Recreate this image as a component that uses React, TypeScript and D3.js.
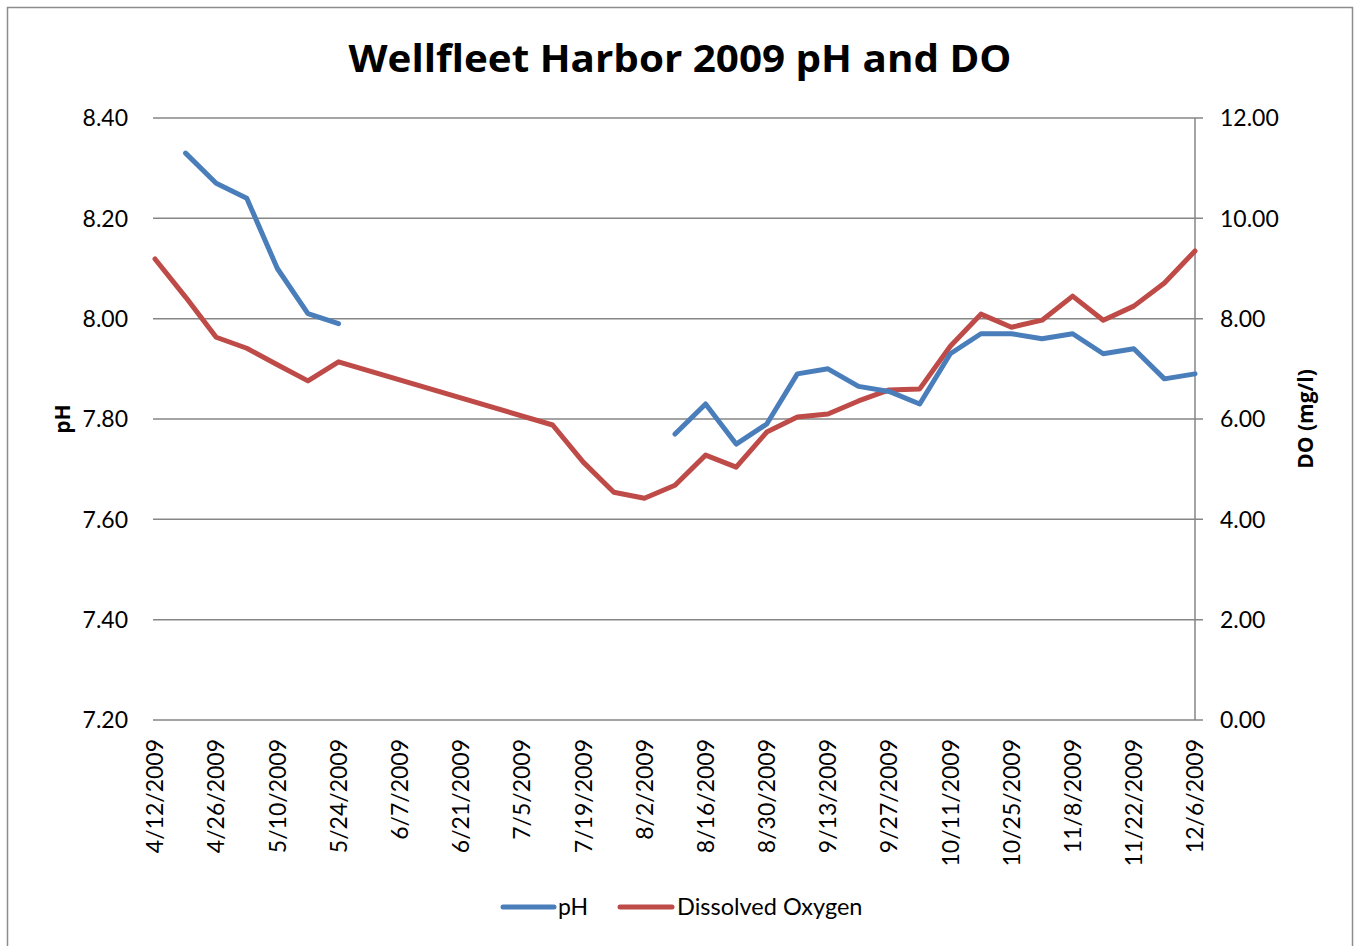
import React from 'react';
import * as d3 from 'd3';

// sample dates (no rows between 5/24 and 7/12)
const dates = [
  '4/12/2009', '4/19/2009', '4/26/2009', '5/3/2009', '5/10/2009', '5/17/2009', '5/24/2009',
  '7/12/2009', '7/19/2009', '7/26/2009', '8/2/2009', '8/9/2009', '8/16/2009', '8/23/2009',
  '8/30/2009', '9/6/2009', '9/13/2009', '9/20/2009', '9/27/2009', '10/4/2009', '10/11/2009',
  '10/18/2009', '10/25/2009', '11/1/2009', '11/8/2009', '11/15/2009', '11/22/2009',
  '11/29/2009', '12/6/2009',
];

const phValues: (number | null)[] = [
  null, 8.33, 8.27, 8.24, 8.10, 8.01, 7.99,
  null, null, null, null, 7.77, 7.83, 7.75,
  7.79, 7.89, 7.90, 7.865, 7.855, 7.83, 7.93,
  7.97, 7.97, 7.96, 7.97, 7.93, 7.94,
  7.88, 7.89,
];

const doValues: (number | null)[] = [
  9.19, 8.43, 7.63, 7.41, 7.08, 6.76, 7.14,
  5.88, 5.14, 4.54, 4.42, 4.68, 5.28, 5.04,
  5.74, 6.04, 6.10, 6.36, 6.58, 6.60, 7.45,
  8.09, 7.83, 7.97, 8.45, 7.97, 8.25,
  8.71, 9.35,
];

const xTickLabels = [
  '4/12/2009', '4/26/2009', '5/10/2009', '5/24/2009', '6/7/2009', '6/21/2009', '7/5/2009',
  '7/19/2009', '8/2/2009', '8/16/2009', '8/30/2009', '9/13/2009', '9/27/2009', '10/11/2009',
  '10/25/2009', '11/8/2009', '11/22/2009', '12/6/2009',
];

const phTicks = [7.2, 7.4, 7.6, 7.8, 8.0, 8.2, 8.4];
const doTicks = [0, 2, 4, 6, 8, 10, 12];

const W = 1356;
const H = 946;
const FONT = 'Lato, "Open Sans", sans-serif';
const BOLD = '"Open Sans", Lato, sans-serif';
const BLUE = '#4a7ebb';
const RED = '#be4b48';
const GRID = '#868686';

const parse = (s: string) => {
  const [m, d, y] = s.split('/').map(Number);
  return new Date(y, m - 1, d);
};

export default function App() {
  const left = 155, right = 1195, top = 118, bottom = 720;

  const x = d3.scaleTime()
    .domain([parse(xTickLabels[0]), parse(xTickLabels[xTickLabels.length - 1])])
    .range([left, right]);
  const yPh = d3.scaleLinear().domain([7.2, 8.4]).range([bottom, top]);
  const yDo = d3.scaleLinear().domain([0, 12]).range([bottom, top]);

  const rows = dates.map((d, i) => ({ date: parse(d), ph: phValues[i], dox: doValues[i] }));

  const phLine = d3.line<typeof rows[0]>()
    .defined(d => d.ph != null)
    .x(d => x(d.date))
    .y(d => yPh(d.ph as number));
  const doLine = d3.line<typeof rows[0]>()
    .defined(d => d.dox != null)
    .x(d => x(d.date))
    .y(d => yDo(d.dox as number));

  return (
    <svg width={W} height={H} style={{ position: 'absolute', left: 0, top: 0, background: '#fff' }}
      fontFamily={FONT}>
      <rect x={7.5} y={7.5} width={1345} height={960} fill="#fff" stroke="#8c8c8c" strokeWidth={1.5} />

      <text x={680} y={72} textAnchor="middle" fontSize={37} fontWeight="bold" fill="#000"
        fontFamily={BOLD} textLength={663} lengthAdjust="spacingAndGlyphs">
        Wellfleet Harbor 2009 pH and DO
      </text>

      {/* gridlines + left labels */}
      {phTicks.map(t => (
        <g key={t}>
          <line x1={153} x2={1203} y1={yPh(t)} y2={yPh(t)} stroke={GRID} strokeWidth={1.5} />
          <text x={128} y={yPh(t)} dy="0.36em" textAnchor="end" fontSize={23} fill="#000">
            {t.toFixed(2)}
          </text>
        </g>
      ))}

      {/* right axis */}
      <line x1={right} x2={right} y1={top} y2={bottom} stroke={GRID} strokeWidth={1.5} />
      {doTicks.map(t => (
        <text key={t} x={1220} y={yDo(t)} dy="0.36em" textAnchor="start" fontSize={23} fill="#000">
          {t.toFixed(2)}
        </text>
      ))}

      {/* x labels */}
      {xTickLabels.map(s => (
        <text key={s} transform={`translate(${x(parse(s))},739) rotate(-90)`} dy="0.36em"
          textAnchor="end" fontSize={23} fill="#000">
          {s}
        </text>
      ))}

      {/* axis titles */}
      <text transform={`translate(62,${(top + bottom) / 2}) rotate(-90)`} dy="0.36em"
        textAnchor="middle" fontSize={21} fontWeight="bold" fontFamily={BOLD}>pH</text>
      <text transform={`translate(1305,${(top + bottom) / 2}) rotate(-90)`} dy="0.36em"
        textAnchor="middle" fontSize={21} fontWeight="bold" fontFamily={BOLD}>DO (mg/l)</text>

      {/* series */}
      <path d={doLine(rows) || ''} fill="none" stroke={RED} strokeWidth={5} strokeLinejoin="round" strokeLinecap="round" />
      <path d={phLine(rows) || ''} fill="none" stroke={BLUE} strokeWidth={5} strokeLinejoin="round" strokeLinecap="round" />

      {/* legend */}
      <line x1={503} x2={554} y1={907} y2={907} stroke={BLUE} strokeWidth={5} strokeLinecap="round" />
      <text x={558} y={907} dy="0.36em" fontSize={23}>pH</text>
      <line x1={620} x2={672} y1={907} y2={907} stroke={RED} strokeWidth={5} strokeLinecap="round" />
      <text x={677} y={907} dy="0.36em" fontSize={23.5}>Dissolved Oxygen</text>
    </svg>
  );
}
